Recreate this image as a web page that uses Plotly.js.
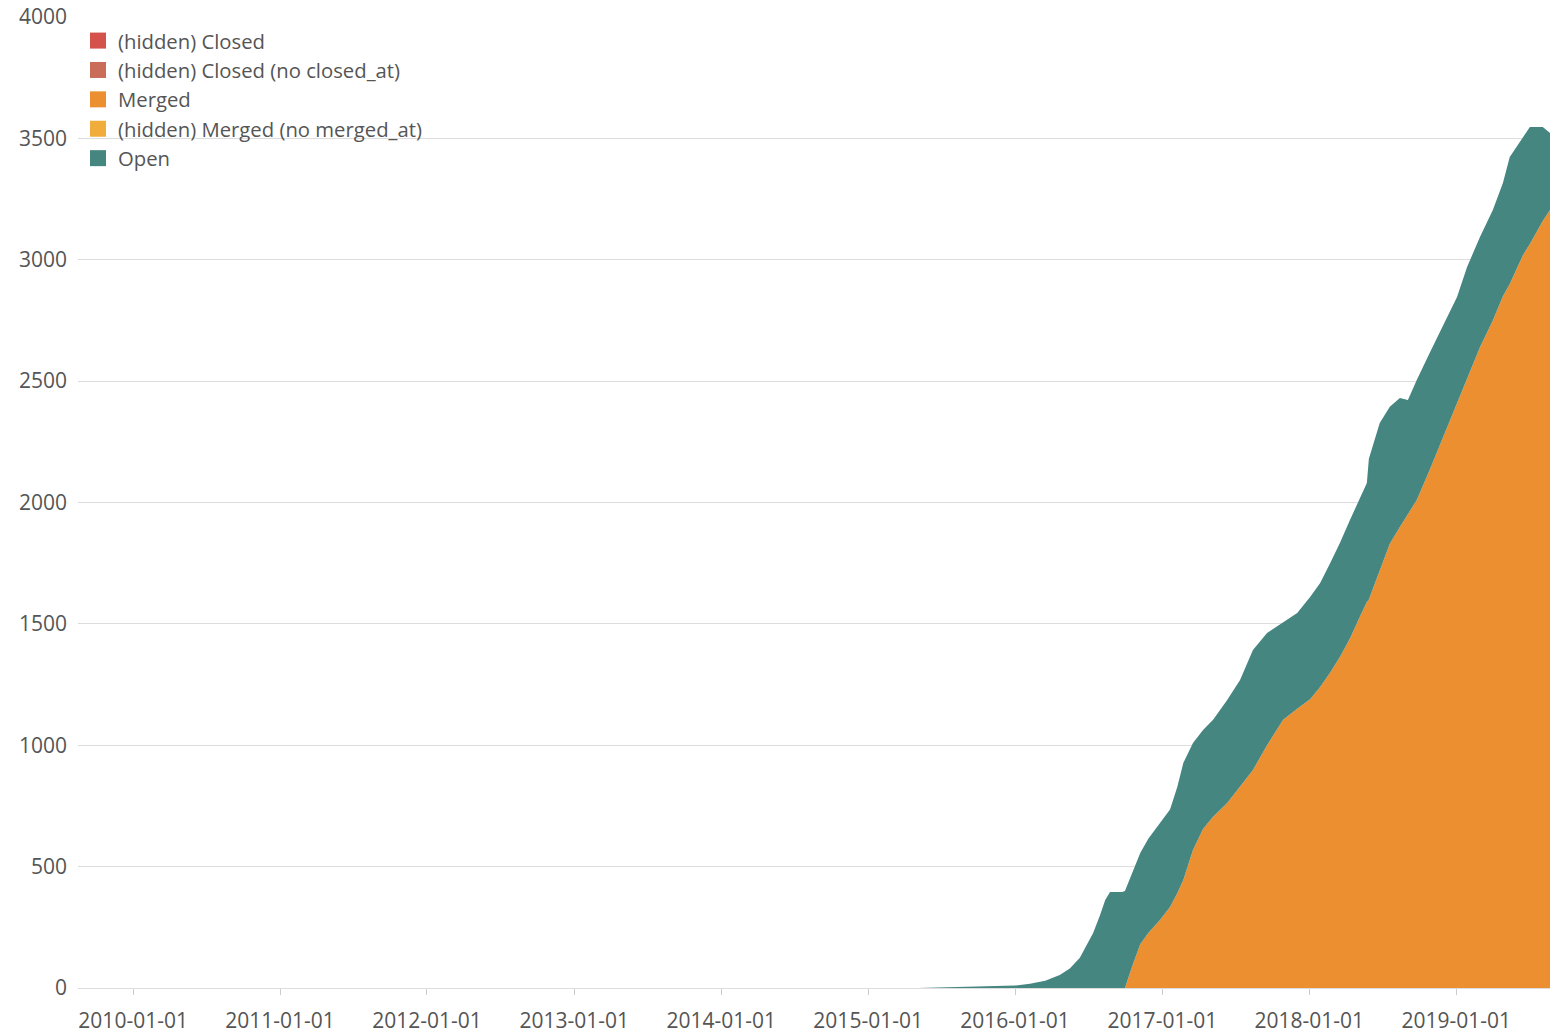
<!DOCTYPE html>
<html>
<head>
<meta charset="utf-8">
<script src="https://cdn.plot.ly/plotly-3.0.1.min.js"></script>
<style>
html, body { margin: 0; padding: 0; background: #fff; }
#chart { width: 1550px; height: 1033px; }
</style>
</head>
<body>
<div id="chart"></div>
<script>
// Dates (x axis)
const dates = [
  "2015-05-05","2015-08-17","2015-11-24","2016-01-01","2016-02-07","2016-03-16",
  "2016-04-21","2016-05-16","2016-06-10","2016-07-13","2016-07-30","2016-08-12",
  "2016-08-24","2016-09-23","2016-09-30","2016-10-18","2016-11-07","2016-11-27",
  "2016-12-26","2017-01-20","2017-02-07","2017-02-22","2017-03-18","2017-04-12",
  "2017-05-07","2017-06-11","2017-07-13","2017-08-14","2017-09-18","2017-10-28",
  "2017-12-02","2018-01-03","2018-01-28","2018-02-22","2018-03-18","2018-04-12",
  "2018-05-07","2018-05-24","2018-05-29","2018-06-25","2018-07-20","2018-08-14",
  "2018-09-03","2018-09-25","2018-10-27","2018-11-28","2019-01-03","2019-01-28",
  "2019-03-01","2019-04-02","2019-04-27","2019-05-14","2019-06-16","2019-07-03",
  "2019-08-04","2019-08-22"
];

// Merged (cumulative)
const merged = [
  0,0,0,0,0,0,
  0,0,0,0,0,0,
  0,0,0,90,180,227,
  280,334,390,445,568,655,
  705,762,828,898,1000,1105,
  1150,1190,1240,1300,1364,1440,
  1530,1590,1600,1720,1830,1899,
  1950,2010,2134,2265,2410,2510,
  2640,2750,2850,2900,3020,3065,
  3160,3205
];

// Open (stacked on top of merged)
const open = [
  0,3,6,10,17,30,
  54,80,125,227,300,363,
  395,395,400,384,376,388,
  400,401,438,482,441,408,
  400,424,441,494,462,403,
  395,421,428,451,469,488,
  493,490,580,607,564,531,
  472,495,482,458,437,460,
  454,455,466,523,486,482,
  387,317
];

// Hidden series (no visible area)
const closed = dates.map(() => 0);
const closedNoClosedAt = dates.map(() => 0);
const mergedNoMergedAt = dates.map(() => 0);

const seriesNames = [
  "(hidden) Closed",
  "(hidden) Closed (no closed_at)",
  "Merged",
  "(hidden) Merged (no merged_at)",
  "Open"
];
const seriesColors = ["#d4514c", "#c96d58", "#eb8f31", "#f1ad3b", "#468680"];
const seriesValues = [closed, closedNoClosedAt, merged, mergedNoMergedAt, open];

const traces = [];
seriesValues.forEach((vals, i) => {
  traces.push({
    type: "scatter",
    mode: "lines",
    x: dates,
    y: vals,
    stackgroup: "one",
    line: { width: 0, color: seriesColors[i] },
    fillcolor: seriesColors[i],
    showlegend: false,
    hoverinfo: "skip"
  });
});
seriesNames.forEach((name, i) => {
  traces.push({
    type: "scatter",
    mode: "markers",
    x: [null],
    y: [null],
    name: name,
    marker: { symbol: "square", size: 17, color: seriesColors[i] },
    showlegend: true,
    hoverinfo: "skip"
  });
});

const font = { family: "'Open Sans', 'Noto Sans', sans-serif", size: 21, color: "#555" };
const legendFont = { family: "'Open Sans', 'Noto Sans', sans-serif", size: 20.3, color: "#555" };

const layout = {
  width: 1550,
  height: 1033,
  margin: { l: 78, r: 0, t: 17, b: 45 },
  paper_bgcolor: "#fff",
  plot_bgcolor: "#fff",
  font: font,
  showlegend: true,
  legend: {
    x: 0, y: 0.996, xanchor: "left", yanchor: "top",
    bgcolor: "rgba(0,0,0,0)",
    font: legendFont,
    traceorder: "normal",
    itemwidth: 30,
    tracegroupgap: 0
  },
  xaxis: {
    type: "date",
    range: ["2009-08-17", "2019-08-22"],
    tick0: "2010-01-01",
    dtick: "M12",
    tickformat: "%Y-%m-%d",
    ticks: "outside",
    ticklen: 6,
    tickcolor: "#ccc",
    ticklabelstandoff: 8,
    showgrid: false,
    showline: true,
    linecolor: "#ddd",
    linewidth: 1,
    zeroline: false,
    tickfont: font
  },
  yaxis: {
    range: [0, 4000],
    dtick: 500,
    tick0: 0,
    showgrid: true,
    gridcolor: "#ddd",
    gridwidth: 1,
    zeroline: false,
    showline: false,
    ticks: "",
    ticklabelstandoff: 10,
    tickfont: font
  },
  hovermode: false
};

Plotly.newPlot("chart", traces, layout, { displayModeBar: false, staticPlot: true });
</script>
</body>
</html>
